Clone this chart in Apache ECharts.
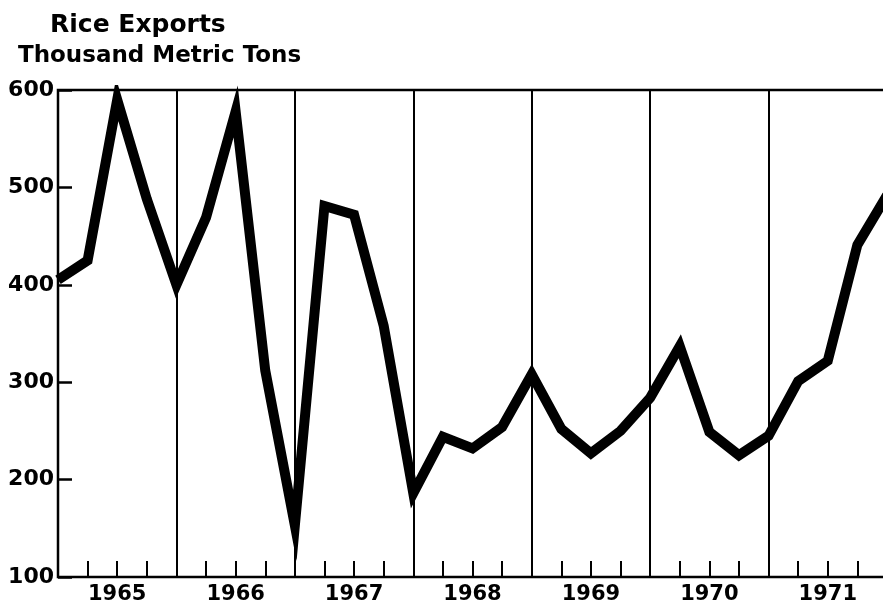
<!DOCTYPE html>
<html>
<head>
<meta charset="utf-8">
<title>Rice Exports</title>
<script src="https://cdn.jsdelivr.net/npm/echarts@6/dist/echarts.min.js"></script>
<style>
  html, body { margin: 0; padding: 0; background: #fff; }
  #eLine { width: 883px; height: 614px; }
</style>
</head>
<body>
<div id="eLine"></div>
<script>
// year labels, one per 4 quarters
const years = ['1965', '1966', '1967', '1968', '1969', '1970', '1971'];
// quarterly exports, thousand metric tons (start of 1965 .. end of 1971)
const exportsTons = [
  405, 425, 590, 488,
  400, 469, 578, 312,
  153, 481, 472, 358,
  186, 244, 232, 254,
  308, 252, 227, 250,
  284, 337, 249, 225,
  245, 301, 322, 441,
  492
];
// y axis tick labels
const yTicks = [100, 200, 300, 400, 500, 600];

const QUARTERS = years.length * 4;
const lineData = exportsTons.map((v, i) => [i, v]);

const drawLine = () => {
  let chart = echarts.init(document.getElementById('eLine'), null, {
    renderer: 'canvas'
  });

  const fontFamily = '"DejaVu Sans", sans-serif';

  let options = {
    backgroundColor: '#fff',
    animation: false,
    // 标题 + 单位
    title: [
      {
        text: 'Rice Exports',
        left: 45,
        top: 8,
        textStyle: { fontFamily, fontSize: 25, fontWeight: 'bold', color: '#000' }
      },
      {
        text: 'Thousand Metric Tons',
        left: 13,
        top: 40,
        textStyle: { fontFamily, fontSize: 23, fontWeight: 'bold', color: '#000' }
      }
    ],
    // grid border gives the frame (right edge falls off the canvas)
    grid: {
      left: 58,
      top: 90,
      right: -4,
      bottom: 37,
      show: true,
      borderColor: '#000',
      borderWidth: 2.5,
      containLabel: false,
      outerBoundsMode: 'none'
    },
    xAxis: [
      {
        // quarter ticks + year labels in the middle of each year
        type: 'value',
        min: 0,
        max: QUARTERS,
        interval: 1,
        position: 'bottom',
        axisLine: { show: false },
        axisTick: {
          show: true,
          inside: true,
          length: 16,
          lineStyle: { color: '#000', width: 2 }
        },
        axisLabel: {
          show: true,
          margin: 7,
          color: '#000',
          fontFamily,
          fontSize: 21,
          fontWeight: 'bold',
          showMinLabel: true,
          showMaxLabel: true,
          formatter: (v) => (v % 4 === 2 ? years[(v - 2) / 4] : '')
        },
        splitLine: { show: false }
      },
      {
        // year boundary lines
        type: 'value',
        min: 0,
        max: QUARTERS,
        interval: 4,
        position: 'bottom',
        axisLine: { show: false },
        axisTick: { show: false },
        axisLabel: { show: false },
        splitLine: { show: true, lineStyle: { color: '#000', width: 2 } }
      }
    ],
    yAxis: {
      type: 'value',
      min: yTicks[0],
      max: yTicks[yTicks.length - 1],
      interval: 100,
      axisLine: { show: false },
      axisTick: {
        show: true,
        inside: true,
        length: 14,
        lineStyle: { color: '#000', width: 2.5 }
      },
      axisLabel: {
        margin: 4,
        color: '#000',
        fontFamily,
        fontSize: 22,
        fontWeight: 'bold'
      },
      splitLine: { show: false }
    },
    series: [
      {
        name: 'Rice Exports',
        type: 'line',
        xAxisIndex: 0,
        data: lineData,
        showSymbol: false,
        symbol: 'none',
        smooth: false,
        lineStyle: { color: '#000', width: 10, join: 'miter', miterLimit: 12 },
        z: 5
      }
    ]
  };

  chart.setOption(options);
};

drawLine();
</script>
</body>
</html>
